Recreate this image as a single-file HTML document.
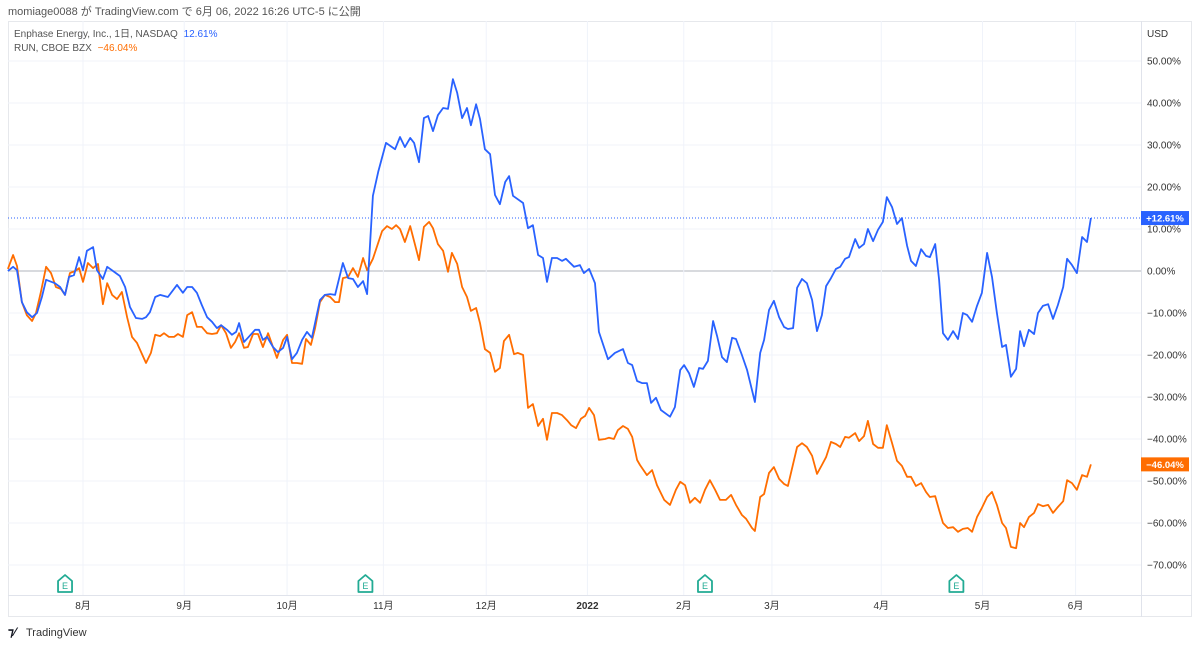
<!DOCTYPE html>
<html><head><meta charset="utf-8">
<style>
html,body{margin:0;padding:0;background:#fff;}
body{width:1200px;height:645px;overflow:hidden;font-family:"Liberation Sans","Noto Sans CJK JP",sans-serif;}
svg text{font-family:"Liberation Sans","Noto Sans CJK JP",sans-serif;}
</style></head>
<body>
<svg id="chart" width="1200" height="645" viewBox="0 0 1200 645" xmlns="http://www.w3.org/2000/svg">
  <text x="8" y="15" font-size="11" fill="#555">momiage0088 が TradingView.com で 6月 06, 2022 16:26 UTC-5 に公開</text>
  <rect x="8.5" y="21.5" width="1183" height="595" fill="none" stroke="#e6e8ec"/>
  <g id="grid"></g>
  <line x1="8" y1="595.5" x2="1192" y2="595.5" stroke="#e0e3eb"/>
  <line x1="1141.5" y1="21" x2="1141.5" y2="617" stroke="#e0e3eb"/>
  <g id="xlabels"></g>
  <g id="ylabels"></g>
  <text x="1147" y="37" font-size="10" fill="#333">USD</text>
  <g id="series"></g>
  <g id="earnings"></g>
  <g id="tags"></g>
  <text x="14" y="37" font-size="10" fill="#555">Enphase Energy, Inc., 1日, NASDAQ <tspan fill="#2962ff" dx="3">12.61%</tspan></text>
  <text x="14" y="51" font-size="10" fill="#555">RUN, CBOE BZX <tspan fill="#ff6d00" dx="3">−46.04%</tspan></text>
  <g>
    <text x="8" y="636" font-size="12" font-weight="bold" fill="#131722">⁊⁄</text>
    <text x="26" y="636" font-size="11" fill="#333">TradingView</text>
  </g>
</svg>
<script>
const enphDays=[-23,-21.4,-20.2,-18.7,-17.2,-15.6,-14.1,-12.6,-11.3,-8.6,-7,-5.5,-4.3,-2.8,-1.2,0,1.2,3.1,4.3,6.1,7.4,9.2,11.3,12.9,14.4,16.2,18.1,19.3,20.5,22.1,23.6,26,28.8,30.6,31.9,33.4,34.9,36.4,38,39.5,41,42.3,44.1,45.6,46.9,47.8,49.3,50.5,52.7,53.9,55.1,56.4,58.2,59.7,61.3,62.5,64,65.5,67.1,68.6,70.1,72.6,74.1,75.7,77.2,79.6,81.2,82.7,84.2,85.8,87,88.8,90.4,92.8,95.6,97.1,98.6,100.2,101.4,102.9,104.4,105.7,107.2,108.7,110.3,111.8,113.3,114.6,116.1,117.6,118.8,120.4,121.6,123.1,124.7,126.2,127.7,129.3,130.5,131.7,134.8,136.3,137.8,139.4,140.9,142.1,143.6,145.2,146.7,147.9,150.4,152.2,153.4,155,156.8,158,160.8,162.9,165.4,166.9,168.2,169.7,171.2,172.7,174,175.5,177,179.8,181.3,182.9,184.1,185.6,187.1,188.7,189.9,191.4,193,194.2,195.7,197.2,198.8,200,201.8,203.4,205.8,207.4,208.6,210.1,211.6,213.2,214.7,215.9,217.5,218.7,220.2,221.7,223.3,224.8,226.3,227.6,229.1,230.6,231.9,233.4,234.6,236.5,237.7,239.2,240.4,242,243.5,245,246.2,247.8,249.3,250.8,252.4,253.6,255.1,256.7,258.2,259.4,261,262.2,263.4,264.9,266.5,268,269.5,270.8,272.3,273.8,275.3,276.9,278.4,279.9,281.5,282.7,284.2,285.8,287,288.2,289.7,291.3,292.5,294,295.6,297.1,298.6,300.2,301.4,302.9,304.4,306,307.5,308.7];
const enphValues=[0,1,0.2,-7.4,-9.8,-11,-10,-6.2,-2.1,-2.9,-3.8,-5.7,-1.4,-1,3.3,0.2,4.8,5.7,0.2,-1.9,1,0,-1.2,-3.8,-8.6,-11.2,-11.4,-11,-9.8,-6.2,-5.7,-6.2,-3.3,-5.2,-3.8,-3.8,-5.2,-8.1,-11,-12.1,-13.6,-12.9,-14,-15.2,-14.5,-12.4,-16.9,-15.9,-14,-14,-16.4,-15.7,-18.1,-19.3,-18.3,-15.7,-21,-19.5,-16.4,-14.5,-15.9,-6.9,-5.7,-5.5,-5.7,1.9,-1.7,-1.9,-3.8,-2.4,-5.5,17.9,23.6,30.5,29,31.9,29.5,31.7,30.5,25.9,36.4,36.9,33.3,37.1,38.8,38.6,45.7,42.4,36.4,38.8,34.7,39.7,36.2,29,27.8,18.1,15.9,21.2,22.6,17.9,16.2,10.2,10.9,3.8,3.1,-2.6,3.1,3.1,2.4,2.9,1,1.4,-0.5,0.5,-2.9,-14.5,-21,-19.5,-18.6,-21.9,-22.4,-26.2,-26.7,-26.7,-31.4,-30.2,-33.1,-34.7,-32.4,-23.6,-22.4,-24.3,-27.6,-23.1,-23.3,-21.4,-11.9,-15.5,-20.5,-21.7,-15.9,-16.2,-20,-23.6,-31.2,-19.5,-16.4,-9.3,-7.1,-11,-13.3,-13.8,-13.6,-4,-1.9,-2.9,-6.9,-14.3,-10.5,-3.6,-1.7,0.5,1,2.9,3.3,7.6,5.5,6.4,10,7.1,9.8,11.7,17.6,15.2,11.2,12.6,6,2.4,1.2,5.2,3.6,3.3,6.4,-2.1,-14.8,-16.4,-14.3,-16.2,-10,-10.5,-12.1,-8.3,-5.2,4.3,-1.4,-10,-18.1,-17.6,-25.2,-23.3,-14.3,-17.9,-14,-15,-10,-8.3,-7.9,-11.4,-8.1,-3.8,2.9,1.4,-0.5,8.1,6.9,12.61];
const runDays=[-23,-21.4,-20.2,-18.7,-17.2,-15.6,-14.4,-12.9,-11.3,-9.8,-8.3,-6.7,-5.5,-4,-2.4,-1.2,0,1.5,3.1,4.6,6.1,7.4,8.9,10.4,11.9,13.5,15,16.5,19.3,20.8,22.1,23.6,24.8,26.3,27.9,29.1,30.6,31.9,33.4,34.9,36.4,38,39.5,41,42.3,43.8,45.3,46.6,47.8,49.3,50.5,52.1,53.6,55.1,56.7,58.2,59.4,61.3,62.5,64,65.5,67.1,68.3,69.8,71.1,72.6,74.1,75.7,77.2,78.4,79.6,81.2,82.7,84.2,85.8,87,88.8,91.6,93.1,94.6,95.9,97.1,98.6,100.2,101.7,102.9,104.4,106,107.2,108.7,110.3,111.8,113,114.6,116.1,117.6,118.8,120.4,121.6,123.1,124.7,126.2,127.7,128.9,130.5,132,133.2,134.8,136.3,137.8,139.4,140.9,142.1,143.6,145.2,146.7,148.2,149.5,151,152.5,153.8,155,156.5,158,159.9,161.1,162.6,163.8,165.4,166.9,168.2,169.7,170.6,172.7,174.3,175.8,178,179.8,181.6,182.9,184.4,185.9,187.4,189,190.5,192,193.6,195.1,196.9,198.5,200,201.8,203.1,204.9,205.8,207.4,208.6,210.1,211.6,213.2,214.7,215.9,218.7,220.2,221.7,223.3,224.8,226.3,227.6,229.1,230.6,231.9,233.4,234.6,236.5,237.7,239.2,240.4,242,243.5,245,246.2,247.8,249.3,250.8,252.4,253.6,255.1,256.7,258.2,259.4,261,262.2,263.4,264.9,266.5,268,269.5,271,272.3,273.8,275.3,276.9,278.4,279.9,281.5,282.7,284.2,285.8,287,288.2,289.7,291.3,292.5,294,295.6,297.1,298.6,300.2,301.4,302.9,304.4,306,307.5,308.7];
const runValues=[0.5,3.8,1.2,-7.4,-10.5,-11.9,-10,-5,1,-0.5,-3.8,-4.3,-5.7,-0.5,0,0.7,-2.6,1.9,0.7,1.7,-7.9,-2.9,-5.7,-6.7,-5,-11,-15.7,-17.1,-21.9,-19.5,-15.2,-15.5,-14.8,-15.7,-15.7,-15,-15.7,-10.5,-9.8,-13.3,-13.3,-14.8,-15,-14.8,-12.9,-14.8,-18.3,-16.9,-14.8,-18.3,-18.1,-15,-15,-18.1,-14.8,-18.1,-20.7,-16.4,-15.2,-21.9,-21.9,-22.1,-16.2,-17.6,-13.6,-7.4,-5.7,-6.2,-7.4,-7.4,-1.7,-1.4,0.7,-1.4,3.1,0.2,2.9,9.5,10.7,10,10.9,10,6.9,10.7,6.2,2.6,10.5,11.7,10.2,6.4,4.8,-0.2,4.3,1.7,-3.8,-6.2,-9.5,-8.8,-12.4,-18.6,-19.5,-24,-23.1,-16.7,-15.2,-19.8,-19.5,-20,-32.6,-31.7,-36.9,-35.2,-40.2,-33.8,-33.8,-34.3,-35.5,-36.7,-37.4,-35.2,-34.5,-32.6,-34.3,-40.2,-40,-39.7,-40,-37.9,-36.9,-37.6,-39.5,-45,-46.2,-48.6,-47.4,-51,-54.5,-55.7,-52.1,-50.2,-51,-55.2,-54,-55.2,-52.1,-49.8,-52.1,-54.5,-54.5,-53.3,-55.7,-58.1,-59,-61.2,-61.9,-53.8,-53.1,-48.1,-46.7,-49.5,-50.7,-51.2,-41.9,-41,-41.9,-44,-48.3,-46.2,-44.3,-40.7,-41.2,-41.9,-39.5,-39.7,-38.6,-40.5,-39.3,-35.7,-41.2,-42.1,-42.1,-36.7,-41,-45.2,-46.4,-49,-49,-51.2,-50.5,-52.6,-53.8,-53.6,-56.9,-60,-61.2,-61,-62.1,-61.4,-61.2,-62.1,-58.6,-56.4,-53.8,-52.6,-55.7,-60,-61.2,-65.7,-66,-60,-61,-58.6,-57.6,-55.5,-56,-55.7,-57.6,-56.2,-54.8,-49.8,-50.5,-52.1,-48.6,-49,-46.04];
const monthLabels=["8月","9月","10月","11月","12月","2022","2月","3月","4月","5月","6月"];
const monthDays=[0,31,62.5,92,123.5,154.5,184,211,244.5,275.5,304];
const yTicks=[50,40,30,20,10,0,-10,-20,-30,-40,-50,-60,-70];
const earningsDays=[-5.5,86.5,190.5,267.5];

const NS="http://www.w3.org/2000/svg";
const X0=83, XPD=3.265, Y0=271, YPP=4.2;
const xs=d=>X0+d*XPD;
const ys=v=>Y0-v*YPP;
function mk(tag,attrs,parent){const e=document.createElementNS(NS,tag);for(const k in attrs)e.setAttribute(k,attrs[k]);parent.appendChild(e);return e;}

const grid=document.getElementById('grid');
yTicks.forEach(t=>{
  const l=mk('line',{x1:8,x2:1141,y1:ys(t),y2:ys(t),stroke:t===0?'#b2b5be':'#f0f3fa','stroke-width':1},grid);
  
  
});
monthDays.forEach(d=>{
  const l=mk('line',{x1:xs(d),x2:xs(d),y1:21,y2:595,stroke:'#f0f3fa'},grid);
  
  
});
const xl=document.getElementById('xlabels');
monthLabels.forEach((m,i)=>{
  const t=mk('text',{x:xs(monthDays[i]),y:609,'font-size':10,fill:'#333','text-anchor':'middle','font-weight':m==='2022'?'bold':'normal'},xl);
  t.textContent=m;
  
  
});
const yl=document.getElementById('ylabels');
yTicks.forEach(v=>{
  const t=mk('text',{x:1147,y:ys(v)+3.5,'font-size':10,fill:'#333'},yl);
  t.textContent=(v<0?'−':'')+Math.abs(v).toFixed(2)+'%';
  
  
});
const sg=document.getElementById('series');
const last=enphValues[enphValues.length-1];
const dl=mk('line',{x1:8,x2:1141,y1:ys(last),y2:ys(last),stroke:'#2962ff','stroke-dasharray':'1 2','stroke-width':1},sg);


function line(days,vals,color,name){
  const p=mk('path',{d:days.map((d,i)=>(i?'L':'M')+xs(d).toFixed(1)+','+ys(vals[i]).toFixed(1)).join(''),fill:'none',stroke:color,'stroke-width':1.8,'stroke-linejoin':'round'},sg);
  
  
}
line(runDays,runValues,'#ff6d00','run-line');
line(enphDays,enphValues,'#2962ff','enph-line');

const eg=document.getElementById('earnings');
earningsDays.forEach(d=>{
  const cx=xs(d);
  const g=mk('g',{},eg);
  
  
  mk('path',{d:`M${cx-7},${581} L${cx},${575} L${cx+7},${581} L${cx+7},${592} L${cx-7},${592} Z`,fill:'#fff',stroke:'#22ab94','stroke-width':1.8,'stroke-linejoin':'round'},g);
  const t=mk('text',{x:cx,y:589,'font-size':9,fill:'#22ab94','text-anchor':'middle'},g);
  t.textContent='E';
});
const tg=document.getElementById('tags');
function tag(v,color,name){
  const g=mk('g',{},tg);
  
  
  mk('rect',{x:1141,y:ys(v)-7,width:48,height:14,fill:color},g);
  const t=mk('text',{x:1165,y:ys(v)+3.5,'font-size':9.5,fill:'#fff','text-anchor':'middle','font-weight':'bold'},g);
  t.textContent=(v<0?'−':'+')+Math.abs(v).toFixed(2)+'%';
}
tag(last,'#2962ff','enph-price-tag');
tag(runValues[runValues.length-1],'#ff6d00','run-price-tag');
</script>
</body></html>
